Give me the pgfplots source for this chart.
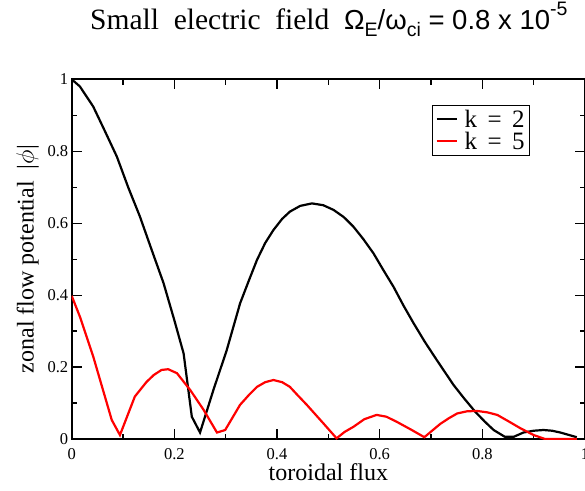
\documentclass[border=0pt]{standalone}
\usepackage{fontspec}
\setmainfont{Liberation Serif}
\newfontfamily\sansf{Liberation Sans}
\usepackage{pgfplots}
\pgfplotsset{compat=1.18}
\newcommand{\smallf}[1]{{\fontsize{19.5}{19.5}\selectfont #1}}
\begin{document}
\begin{tikzpicture}
\begin{axis}[
  at={(0,0)}, anchor=south west,
  scale only axis, width=513.3pt, height=359.7pt,
  xmin=0, xmax=1, ymin=0, ymax=1,
  xtick={0,0.2,0.4,0.6,0.8,1}, xticklabels={0,0.2,0.4,0.6,0.8,1},
  ytick={0,0.2,0.4,0.6,0.8,1}, yticklabels={0,0.2,0.4,0.6,0.8,1},
  minor xtick={0.1,0.3,0.5,0.7,0.9}, minor ytick={0.1,0.3,0.5,0.7,0.9},
  tick align=inside, major tick length=10pt, minor tick length=5.5pt,
  every tick/.style={black, line width=1.2pt},
  axis line style={line width=1.8pt},
  ticklabel style={font=\fontsize{16.5}{16.5}\selectfont},
  /pgf/number format/assume math mode=true,
  xticklabel style={anchor=base, yshift=-20pt},
  xlabel={toroidal flux}, ylabel={zonal flow potential\ \ |$\phi$|},
  xlabel style={font=\fontsize{24}{24}\selectfont, at={(axis description cs:0.5,-0.115)}, anchor=base},
  ylabel style={font=\fontsize{24}{24}\selectfont, at={(axis description cs:-0.074,0.5)}, anchor=base},
  title={\fontsize{29.5}{29.5}\selectfont Small\ \ electric\ \ field\ \ {\sansf\fontsize{27.5}{27.5}\selectfont Ω\raisebox{-7pt}{\smallf{E}}/ω\raisebox{-7pt}{\smallf{ci}} = 0.8 x 10\raisebox{14.5pt}{\smallf{-5}}}},
  title style={at={(axis description cs:0.0357,1.1204)}, anchor=base west, inner sep=0pt},
  legend style={at={(axis description cs:0.702,0.9286)}, anchor=north west, draw=black, line width=1pt,
    font=\fontsize{25}{25}\selectfont, inner xsep=3pt, inner ysep=3pt, row sep=0pt, legend cell align=left,
    nodes={inner ysep=1.5pt}},
  legend image code/.code={\draw[#1, line width=2pt] (0pt,0pt) -- (20pt,0pt); \path (25pt,0pt);},
]
\addplot[black, line width=2.2pt] coordinates {
(0,1) (0.016,0.98) (0.042,0.924) (0.065,0.855) (0.088,0.785) (0.11,0.70) (0.133,0.618) (0.156,0.525) (0.179,0.433) (0.2,0.33) (0.218,0.238) (0.234,0.062) (0.25,0.018)
(0.276,0.136) (0.302,0.247) (0.328,0.377) (0.345,0.44) (0.361,0.498) (0.377,0.545) (0.393,0.581) (0.41,0.612) (0.425,0.632) (0.445,0.648) (0.468,0.655) (0.49,0.650) (0.51,0.637) (0.53,0.617) (0.549,0.59) (0.568,0.556) (0.588,0.516) (0.607,0.47) (0.627,0.423) (0.646,0.372) (0.666,0.322) (0.688,0.27) (0.711,0.22) (0.744,0.15) (0.765,0.112) (0.786,0.076) (0.805,0.048) (0.822,0.025) (0.844,0.006) (0.861,0.006) (0.88,0.018) (0.9,0.023) (0.919,0.025) (0.936,0.023) (0.952,0.018) (0.984,0.005)
};
\addlegendentry{k \,=\, 2}
\addplot[red, line width=2.2pt] coordinates {
(0,0.398) (0.016,0.34) (0.042,0.229) (0.078,0.053) (0.094,0.011) (0.123,0.118) (0.146,0.159) (0.16,0.178) (0.175,0.192) (0.188,0.194) (0.205,0.183) (0.231,0.136) (0.257,0.081) (0.283,0.018) (0.299,0.025)
(0.328,0.095) (0.345,0.122) (0.361,0.145) (0.377,0.158) (0.393,0.164) (0.41,0.158) (0.425,0.145) (0.44,0.122) (0.458,0.095) (0.49,0.044) (0.516,0.002)
(0.532,0.02) (0.549,0.034) (0.57,0.055) (0.594,0.067) (0.613,0.062) (0.633,0.048) (0.66,0.027) (0.687,0.005)
(0.718,0.042) (0.735,0.058) (0.751,0.071) (0.77,0.077) (0.79,0.078) (0.81,0.074) (0.829,0.067) (0.85,0.05) (0.874,0.03) (0.9,0.011) (0.922,0.0) (0.984,0.0)
};
\addlegendentry{k \,=\, 5}
\end{axis}
\pgfresetboundingbox
\useasboundingbox (-71.7pt,-51pt) rectangle (513.3pt,439pt);
\end{tikzpicture}
\end{document}
